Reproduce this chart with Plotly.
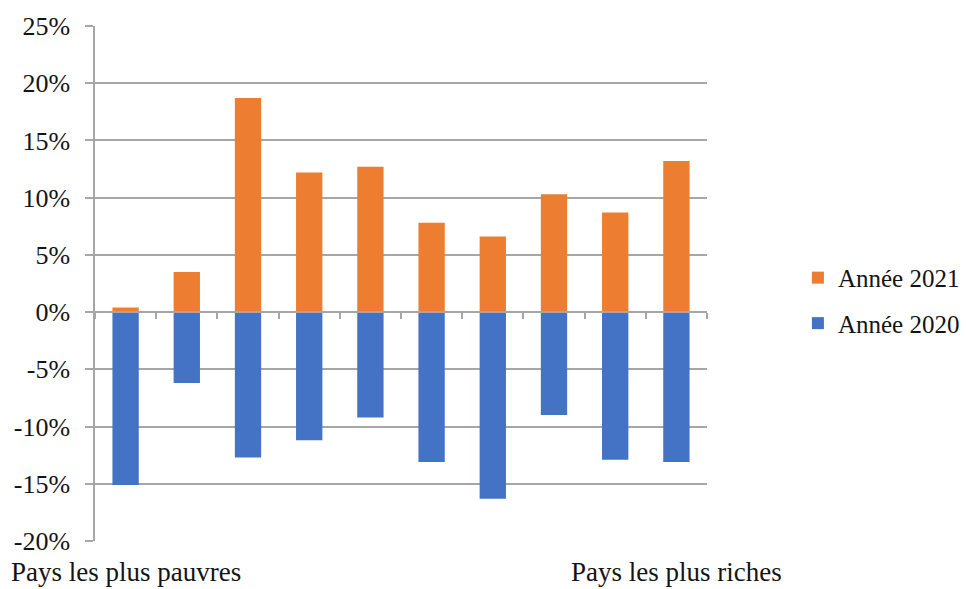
import plotly.graph_objects as go

categories = list(range(1, 11))
edge_labels = ["Pays les plus pauvres", "Pays les plus riches"]
values_2021 = [0.004, 0.035, 0.187, 0.122, 0.127, 0.078, 0.066, 0.103, 0.087, 0.132]
values_2020 = [-0.151, -0.062, -0.127, -0.112, -0.092, -0.131, -0.163, -0.090, -0.129, -0.131]
y_ticks = [-0.20, -0.15, -0.10, -0.05, 0.0, 0.05, 0.10, 0.15, 0.20, 0.25]
y_ticktext = [f"{round(v * 100)}%" for v in y_ticks]

ORANGE = "#ED7D31"
BLUE = "#4472C4"
GRID = "#a6a6a6"
FONT = "Liberation Serif"
TXT = "#141414"
FS = 26

fig = go.Figure()
fig.add_trace(go.Bar(x=categories, y=values_2021, name="Année 2021",
                     marker=dict(color=ORANGE, line=dict(width=0)), legendgroup="a"))
fig.add_trace(go.Bar(x=categories, y=values_2020, name="Année 2020",
                     marker=dict(color=BLUE, line=dict(width=0)), legendgroup="b"))

ymin, ymax = y_ticks[0], y_ticks[-1]
zero_pos = (0 - ymin) / (ymax - ymin)
boundaries = [c - 0.5 for c in categories] + [categories[-1] + 0.5]

fig.update_layout(
    width=966, height=589,
    margin=dict(l=95, r=259, t=26, b=48, autoexpand=False),
    paper_bgcolor="white", plot_bgcolor="white",
    barmode="relative", bargap=0.57,
    font=dict(family=FONT, size=FS, color=TXT),
    xaxis=dict(range=[0.5, 10.5], anchor="free", position=zero_pos,
               showline=True, linecolor=GRID, linewidth=1.5,
               ticks="outside", ticklen=6, tickcolor=GRID, tickwidth=1.5,
               tickvals=boundaries, showticklabels=False, showgrid=False,
               zeroline=False),
    yaxis=dict(range=[ymin, ymax], tickvals=y_ticks, ticktext=y_ticktext,
               showline=True, linecolor=GRID, linewidth=1.5,
               ticks="outside", ticklen=8, tickcolor=GRID, tickwidth=1.5,
               showgrid=True, gridcolor=GRID, gridwidth=1.5,
               zeroline=False, ticklabelstandoff=10,
               tickfont=dict(family=FONT, size=FS, color=TXT)),
    legend=dict(xref="container", yref="container", x=0.826, y=0.49,
                xanchor="left", yanchor="middle",
                traceorder="grouped", tracegroupgap=10,
                font=dict(family=FONT, size=25, color=TXT)),
    showlegend=True,
)

for xv, txt in zip([categories[0], categories[-1]], edge_labels):
    fig.add_annotation(x=xv, y=0, xref="x", yref="paper", text=txt,
                       showarrow=False, yanchor="top", xanchor="center",
                       yshift=-14, font=dict(family=FONT, size=27, color=TXT))

fig.write_html("out.html")
